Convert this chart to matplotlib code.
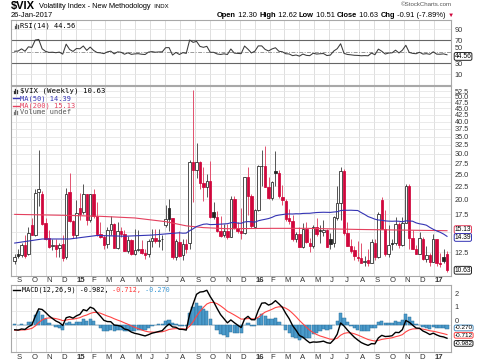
import matplotlib
matplotlib.use("Agg")
import matplotlib.pyplot as plt
import numpy as np
import pandas as pd
from matplotlib.lines import Line2D
from matplotlib.ticker import FixedLocator, FuncFormatter, NullLocator
from matplotlib.transforms import blended_transform_factory

plt.rcParams['font.family'] = ['Liberation Sans', 'DejaVu Sans']

W, H = 480, 363

# weekly bars, first week ending 2014-08-29
start = "2014-08-29"
opens = [11.5, 12.3, 12.2, 13.3, 12.3, 15.9, 14.6, 21.3, 21.0, 16.2, 14.2, 13.2, 13.3, 13.0, 13.4, 12.0, 21.3, 16.5,   # 2014
         14.5, 18.5, 17.9, 20.9, 16.7, 21.0, 17.3, 14.7, 14.3, 13.4, 15.2, 16.0, 13.0, 15.1, 14.7, 12.6, 13.9,
         12.3, 12.7, 12.9, 12.4, 12.3, 13.8, 14.2, 13.8, 14.1, 15.9, 18.6, 16.9, 12.0, 13.7, 12.2, 13.4, 13.6,
         28.0, 26.1, 27.8, 23.2, 22.3, 23.6, 17.8, 17.1, 15.1, 14.5, 15.1, 14.3, 20.1, 15.5, 15.1, 14.8, 24.4, 20.7,  # 2015
         15.7, 18.2, 27.0, 27.0, 22.3, 20.2, 25.8, 25.4, 20.5, 19.8, 16.9, 16.5, 14.0, 14.7, 13.1, 15.4, 13.6,
         13.2, 15.7, 15.2, 15.0, 15.2, 14.0, 13.5, 17.0, 19.4, 25.8, 14.8, 13.2, 12.7, 12.0, 11.9, 11.4, 11.6,
         11.3, 13.6, 12.0, 19.9, 15.4, 12.3, 13.6, 13.5, 16.1, 13.3, 16.2, 22.5, 14.2, 12.9, 12.3, 14.1, 11.8,
         12.2, 11.4,                                                                                              # 2016
         14.0, 11.3, 12.0, 12.30]                                                                                 # 2017
highs = [12.3, 12.9, 13.5, 14.6, 15.6, 17.0, 21.9, 31.06, 21.6, 17.0, 15.2, 14.0, 14.0, 13.6, 14.6, 22.1, 25.2, 16.6,
         19.9, 21.1, 23.0, 21.0, 21.0, 22.0, 19.5, 16.3, 14.6, 15.7, 17.2, 16.2, 16.3, 15.6, 15.2, 14.4, 14.0,
         15.3, 15.2, 13.9, 12.9, 14.0, 15.3, 15.4, 15.3, 14.5, 19.0, 20.0, 17.0, 14.0, 15.1, 14.0, 14.0, 28.4,
         53.29, 33.0, 28.2, 26.8, 25.0, 28.2, 19.6, 18.0, 17.2, 16.0, 16.0, 20.6, 20.7, 16.3, 18.6, 24.5, 26.8, 21.0,
         18.3, 27.1, 30.95, 32.09, 24.5, 23.5, 30.9, 26.1, 22.8, 20.0, 18.4, 17.4, 15.0, 15.6, 16.2, 16.4, 14.2,
         15.9, 16.9, 15.9, 16.7, 15.3, 14.8, 17.3, 22.5, 26.7, 26.3, 16.4, 14.0, 13.2, 13.8, 13.5, 12.1, 12.9,
         14.0, 14.0, 17.9, 20.5, 18.2, 15.9, 14.1, 17.1, 16.4, 17.1, 23.0, 22.9, 15.2, 13.3, 15.0, 14.3, 13.2,
         12.4, 14.7,
         14.1, 12.4, 12.9, 12.62]
lows = [11.2, 11.9, 12.0, 11.9, 12.2, 14.5, 14.4, 18.8, 15.9, 13.9, 13.0, 12.7, 12.0, 12.0, 11.5, 11.8, 16.4, 14.2,
        14.2, 16.7, 17.6, 15.9, 16.4, 16.9, 14.4, 14.2, 12.9, 13.0, 14.6, 13.0, 12.9, 14.3, 12.6, 12.4, 12.2,
        12.2, 12.6, 12.3, 11.8, 12.0, 13.1, 13.5, 13.1, 12.7, 15.6, 15.1, 11.8, 11.7, 12.0, 11.7, 12.4, 12.8,
        19.5, 24.3, 22.0, 19.8, 20.4, 17.0, 16.8, 15.0, 14.3, 14.3, 14.1, 14.3, 15.3, 14.8, 14.1, 14.7, 17.4, 15.5,
        15.6, 18.1, 22.5, 22.3, 20.0, 19.9, 22.5, 20.2, 19.0, 16.5, 16.0, 13.8, 13.7, 13.1, 13.0, 13.6, 12.5,
        13.0, 14.4, 13.6, 14.4, 13.1, 12.9, 13.1, 16.6, 16.6, 14.5, 13.2, 12.4, 11.6, 11.5, 11.4, 11.0, 11.0,
        11.3, 11.7, 11.9, 15.3, 12.1, 12.0, 12.7, 13.3, 13.0, 13.2, 16.2, 12.9, 12.8, 12.3, 12.3, 11.7, 11.4,
        11.0, 11.4,
        11.0, 10.9, 11.3, 10.51]
closes = [11.98, 12.09, 13.31, 12.11, 14.85, 14.55, 21.24, 21.99, 16.11, 14.03, 13.12, 13.31, 12.90, 13.33, 11.82,
          21.08, 16.49, 14.50,
          17.79, 17.55, 20.95, 16.66, 20.97, 17.29, 14.69, 14.30, 13.34, 15.20, 16.00, 13.02, 15.07, 14.67, 12.58,
          13.89, 12.29, 12.70, 12.86, 12.38, 12.13, 13.84, 14.21, 13.78, 13.96, 14.02, 16.79, 16.83, 11.95, 13.74,
          12.12, 13.39, 12.83, 28.03, 26.05, 27.80, 23.20, 22.28, 23.62, 17.08, 17.08, 15.05, 14.46, 15.07, 14.33,
          20.08, 15.47, 15.12, 14.81, 24.39, 20.70, 15.74,
          18.21, 27.01, 27.02, 22.34, 20.20, 23.38, 25.40, 20.53, 19.81, 16.86, 16.50, 14.02, 14.74, 13.10, 15.36,
          13.62, 13.22, 15.70, 14.72, 15.04, 15.20, 13.12, 13.47, 17.03, 19.41, 25.76, 14.77, 13.20, 12.67, 12.02,
          11.87, 11.39, 11.55, 11.34, 13.65, 11.98, 17.50, 15.37, 12.29, 13.29, 13.48, 16.12, 13.34, 16.19, 22.51,
          14.17, 12.85, 12.34, 14.12, 11.75, 12.20, 11.44, 14.04,
          11.32, 11.23, 11.54, 10.63]
prev_close = 11.47

rsi_seed_gain, rsi_seed_loss = 0.60, 0.62
ema12_seed, ema26_seed, signal_seed = 12.9, 13.2, -0.40

# moving averages (week index -> value)
ma200_weeks = [0, 15, 25, 35, 44, 50, 55, 62, 75, 85, 100, 115, 126]
ma200_vals = [17.5, 17.35, 17.2, 16.95, 16.4, 15.8, 15.55, 15.4, 15.45, 15.45, 15.3, 15.2, 15.13]
ma50_early_weeks = [0, 8, 16, 24, 32, 40, 48]
ma50_early_vals = [13.55, 14.05, 14.05, 14.5, 14.4, 14.55, 14.85]

RED = "#d0063c"
RED_WICK = "#e2506e"
BLUE = "#3434b4"
MA200_RED = "#e4405e"
HIST = "#4b9bcb"
GRID_H = "#e6e6e6"
GRID_V = "#d9d9d9"
FRAME = "#a8a8a8"


def fx(px):
    return px / W


def fy(py):
    return 1 - py / H


def ema(values, span, seed):
    a = 2 / (span + 1)
    out, e = [], seed
    for v in values:
        e = e + a * (v - e)
        out.append(e)
    return np.array(out)


n = len(closes)
x = np.arange(n)
dates = pd.date_range(start, periods=n, freq="7D")
c = pd.Series(closes)

# RSI(14), Wilder smoothing
rsi = []
g, l = rsi_seed_gain, rsi_seed_loss
for d in np.diff([prev_close] + closes):
    g = (g * 13 + max(d, 0)) / 14
    l = (l * 13 + max(-d, 0)) / 14
    rsi.append(100 - 100 / (1 + g / l))

macd = ema(closes, 12, ema12_seed) - ema(closes, 26, ema26_seed)
signal = ema(macd, 9, signal_seed)
hist = macd - signal

ma50_calc = c.rolling(50).mean()
ma50_x = list(ma50_early_weeks) + list(range(49, n))
ma50_y = list(ma50_early_vals) + list(ma50_calc.iloc[49:])

fig = plt.figure(figsize=(W / 100, H / 100), dpi=100)
ax_rsi = fig.add_axes([fx(11), fy(85), fx(440), 65 / H])
ax_main = fig.add_axes([fx(11), fy(276), fx(440), 190 / H])
ax_macd = fig.add_axes([fx(11), fy(352), fx(440), 67 / H])

xlim = (-1.08, n - 1 + 1.17)
months = pd.date_range("2014-09-01", "2017-01-01", freq="MS")
month_pos = [(m - dates[0]).days / 7 for m in months]

for ax in (ax_rsi, ax_main, ax_macd):
    ax.set_xlim(*xlim)
    ax.set_xticks([])
    for p in month_pos:
        ax.axvline(p, color=GRID_V, lw=0.6, zorder=0)
    for s in ax.spines.values():
        s.set_color(FRAME)
        s.set_linewidth(0.8)
    ax.yaxis.tick_right()
    ax.tick_params(axis="y", length=0, pad=2.5, labelsize=5.3, labelcolor="#333333")

# RSI panel
ax_rsi.set_ylim(-8.8, 105.9)
ax_rsi.yaxis.set_major_locator(FixedLocator([10, 30, 50, 70, 90]))
ax_rsi.yaxis.set_major_formatter(FuncFormatter(lambda v, p: "%d" % v))
for lv in (10, 90):
    ax_rsi.axhline(lv, color=GRID_H, lw=0.6, zorder=0)
for lv in (30, 70):
    ax_rsi.axhline(lv, color="#666666", lw=0.8, zorder=1)
ax_rsi.axhline(50, color="#999999", lw=0.7, dashes=(4, 1.5, 1, 1.5), zorder=1)
ax_rsi.plot(x, rsi, color="#3a3a3a", lw=0.75, zorder=3)

# price panel
ax_main.set_yscale("log")
ax_main.set_ylim(10.1, 55)
grid_lv = np.arange(10, 53, 2.5)
ax_main.yaxis.set_major_locator(FixedLocator(grid_lv))
ax_main.yaxis.set_minor_locator(NullLocator())
ax_main.yaxis.set_major_formatter(
    FuncFormatter(lambda v, p: "" if (v < 11 or abs(v - 15) < 0.1) else "%.1f" % v))
for lv in grid_lv:
    ax_main.axhline(lv, color=GRID_H, lw=0.6, zorder=0)

pc = [prev_close] + closes[:-1]
for i in range(n):
    o, h, lo_, cl = opens[i], highs[i], lows[i], closes[i]
    up_day = cl >= pc[i]
    col = "#222222" if up_day else RED
    wick = "#555555" if up_day else RED_WICK
    ax_main.vlines(i, lo_, h, color=wick, lw=0.7, zorder=2)
    lo, hi = min(o, cl), max(o, cl)
    face = "white" if cl > o else col
    ax_main.bar(i, hi - lo, bottom=lo, width=0.72, facecolor=face, edgecolor=col,
                lw=0.55, zorder=3)

ax_main.plot(ma200_weeks, ma200_vals, color=MA200_RED, lw=0.8, zorder=4)
ax_main.plot(ma50_x, ma50_y, color=BLUE, lw=0.8, zorder=4)

# MACD panel
ax_macd.set_ylim(-2.0, 2.96)
ax_macd.yaxis.set_major_locator(FixedLocator([-1, 0, 1, 2]))
ax_macd.yaxis.set_major_formatter(FuncFormatter(lambda v, p: "" if v < 0 else "%d" % v))
for lv in (-1, 0, 1, 2):
    ax_macd.axhline(lv, color=GRID_H, lw=0.6, zorder=0)
ax_macd.bar(x, hist, width=0.95, color=HIST, edgecolor="#2c6f9c", lw=0.35, zorder=2)
ax_macd.plot(x, signal, color="#ff4444", lw=0.8, zorder=3)
ax_macd.plot(x, macd, color="black", lw=1.0, zorder=4)
# the labels that sit right above a value tag are lifted a little
for t in ax_macd.get_yticklabels():
    t.set_va("bottom")
for t in ax_rsi.get_yticklabels():
    if t.get_text() == "50":
        t.set_va("bottom")

# month labels
for m, p in zip(months, month_pos):
    if m.month == 1:
        lab, wt = m.strftime("%y"), "bold"
    else:
        lab, wt = m.strftime("%b")[0], "normal"
    for ypx, ax in ((281, ax_main), (357.5, ax_macd)):
        tr = blended_transform_factory(ax.transData, fig.transFigure)
        ax.text(p + 0.1, fy(ypx), lab, transform=tr, ha="left", va="center",
                fontsize=5.6, fontweight=wt, color="#333333")


# value tags on the right
def tag(ax, val, text, ec, dy=0, fs=4.8):
    ax.annotate(text, xy=(1.0, val), xycoords=("axes fraction", "data"),
                xytext=(2.6, dy), textcoords="offset points", ha="left", va="center",
                fontsize=fs, color="black", annotation_clip=False, zorder=10,
                bbox=dict(boxstyle="round,pad=0.06,rounding_size=0.25", fc="white",
                          ec=ec, lw=0.7))


tag(ax_rsi, 44.56, "44.56", "#222222", -1.2)
tag(ax_main, 15.13, "15.13", MA200_RED, 0.8)
tag(ax_main, 14.39, "14.39", BLUE, -0.8)
tag(ax_main, 10.63, "10.63", "#222222")
tag(ax_macd, -0.270, "-0.270", "#4b8fc0", 0.5, 4.6)
tag(ax_macd, -0.712, "-0.712", "#ff4444", -0.5, 4.6)
tag(ax_macd, -0.982, "-0.982", "#222222", -3.7, 4.6)

# legends inside panels
mono = "DejaVu Sans Mono"
fig.text(fx(20), fy(26), "RSI(14) 44.56", fontsize=5.0, family=mono, va="center")
fig.text(fx(19.5), fy(91), r"\$VIX (Weekly) 10.63", fontsize=5.3, family=mono, va="center")
fig.text(fx(20), fy(98.3), "MA(50) 14.39", fontsize=5.0, family=mono, va="center", color=BLUE)
fig.text(fx(20), fy(105.5), "MA(200) 15.13", fontsize=5.0, family=mono, va="center", color=MA200_RED)
fig.text(fx(20), fy(112), "Volume undef", fontsize=5.0, family=mono, va="center", color="#555555")
fig.add_artist(Line2D([fx(13), fx(19)], [fy(98.3)] * 2, color=BLUE, lw=1.0))
fig.add_artist(Line2D([fx(13), fx(19)], [fy(105.5)] * 2, color=MA200_RED, lw=1.0))
fig.add_artist(Line2D([fx(13), fx(19.5)], [fy(290)] * 2, color="black", lw=1.0))
# tiny chart-type icons
for (xp, yp, col) in ((14, 91, "#333333"), (14, 112, "#777777"), (15, 26, "#555555")):
    for k, hh in enumerate((2.5, 4.0, 3.0)):
        fig.add_artist(Line2D([fx(xp + k * 1.4)] * 2, [fy(yp + 2), fy(yp + 2 - hh)],
                              color=col, lw=0.9))

fig.canvas.draw()
renderer = fig.canvas.get_renderer()


def pieces(x0px, ypx, parts):
    xf = fx(x0px)
    for s, kw in parts:
        t = fig.text(xf, fy(ypx), s, va="center", **kw)
        bb = t.get_window_extent(renderer)
        xf += bb.width / W


pieces(21.7, 290, [("MACD(12,26,9) -0.982,", dict(fontsize=4.9, family=mono)),
                   (" -0.712,", dict(fontsize=4.9, family=mono, color="#ff3333")),
                   (" -0.270", dict(fontsize=4.9, family=mono, color="#3d9ad6"))])

# header
pieces(11, 6, [(r"\$VIX", dict(fontsize=8, fontweight="bold")),
               ("  Volatility Index - New Methodology", dict(fontsize=5.3)),
               ("  INDX", dict(fontsize=4.3))])
fig.text(fx(11), fy(15.5), "26-Jan-2017", fontsize=5.4, va="center")
bold = dict(fontsize=5.4, fontweight="bold")
reg = dict(fontsize=5.4)
pieces(217, 15.5, [("Open", bold), (" 12.30 ", reg), ("High", bold), (" 12.62 ", reg),
                   ("Low", bold), (" 10.51 ", reg), ("Close", bold), (" 10.63 ", reg),
                   ("Chg", bold), (" -0.91 (-7.89%) ", reg),
                   ("\u25bc", dict(fontsize=4.5, color=RED))])
fig.text(fx(452), fy(5), "\u00a9StockCharts.com", fontsize=4.4, color="#555555",
         ha="right", va="center")

fig.savefig("out.png", dpi=100)
